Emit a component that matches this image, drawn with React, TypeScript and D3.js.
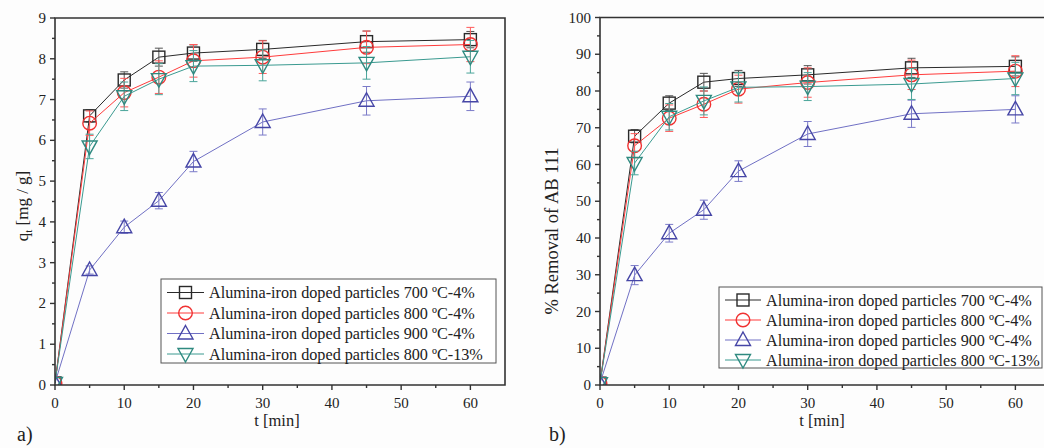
import React from "react";
import * as d3 from "d3";

const times = [0, 5, 10, 15, 20, 30, 45, 60];
const seriesNames = [
  "Alumina-iron doped particles 700 ºC-4%",
  "Alumina-iron doped particles 800 ºC-4%",
  "Alumina-iron doped particles 900 ºC-4%",
  "Alumina-iron doped particles 800 ºC-13%",
];
// panel a) q_t [mg/g]
const qt700 = [0.05, 6.6, 7.48, 8.04, 8.14, 8.23, 8.42, 8.47];
const qt800 = [0.05, 6.42, 7.17, 7.55, 7.95, 8.04, 8.28, 8.35];
const qt900 = [0.05, 2.82, 3.87, 4.52, 5.48, 6.45, 6.97, 7.08];
const qt800b = [0.05, 5.85, 7.08, 7.5, 7.82, 7.84, 7.9, 8.05];
const qtErr700 = [0, 0.15, 0.2, 0.22, 0.2, 0.22, 0.26, 0.2];
const qtErr800 = [0, 0.3, 0.35, 0.4, 0.4, 0.4, 0.4, 0.42];
const qtErr900 = [0, 0.1, 0.15, 0.2, 0.25, 0.32, 0.35, 0.35];
const qtErr800b = [0, 0.3, 0.35, 0.38, 0.38, 0.38, 0.4, 0.4];
// panel b) % removal
const rm700 = [0.5, 67.7, 76.7, 82.4, 83.4, 84.4, 86.3, 86.7];
const rm800 = [0.5, 65.1, 72.6, 76.4, 80.5, 82.3, 84.4, 85.4];
const rm900 = [0.5, 29.9, 41.3, 47.7, 58.2, 68.3, 73.8, 75.0];
const rm800b = [0.5, 60.4, 73.0, 77.3, 81.0, 81.2, 81.9, 83.4];
const rmErr700 = [0, 1.8, 2.0, 2.4, 2.2, 2.5, 2.6, 2.6];
const rmErr800 = [0, 3.3, 3.6, 3.6, 3.8, 4.0, 4.0, 4.2];
const rmErr900 = [0, 2.6, 2.4, 2.6, 2.8, 3.4, 3.7, 3.7];
const rmErr800b = [0, 3.2, 3.6, 3.8, 4.0, 3.8, 4.2, 4.4];

const xTicks = [0, 10, 20, 30, 40, 50, 60];
const qtTicks = [0, 1, 2, 3, 4, 5, 6, 7, 8, 9];
const rmTicks = [0, 10, 20, 30, 40, 50, 60, 70, 80, 90, 100];

const lineColors = ["#2a2a2a", "#ff3b3b", "#7070c4", "#3a9a90"];
const markerColors = ["#2a2a2a", "#f03232", "#4646a6", "#2f8a80"];
const errColors = ["#555555", "#ff5a5a", "#7a7ac8", "#4aa59a"];
const markerTypes = ["square", "circle", "up", "down"];

const FONT = "'Liberation Serif', 'Times New Roman', serif";
const AXIS = "#333333";

function Marker({ type, x, y, color }: { type: string; x: number; y: number; color: string }) {
  const sw = 1.4;
  if (type === "square")
    return <rect x={x - 6} y={y - 6} width={12} height={12} fill="none" stroke={color} strokeWidth={sw} />;
  if (type === "circle") return <circle cx={x} cy={y} r={6.8} fill="none" stroke={color} strokeWidth={sw} />;
  if (type === "up")
    return (
      <path d={`M${x},${y - 8}L${x + 7.5},${y + 5.5}L${x - 7.5},${y + 5.5}Z`} fill="none" stroke={color} strokeWidth={sw} />
    );
  return (
    <path d={`M${x},${y + 8}L${x + 7.5},${y - 5.5}L${x - 7.5},${y - 5.5}Z`} fill="none" stroke={color} strokeWidth={sw} />
  );
}

type PanelProps = {
  id: string;
  left: number;
  top: number;
  bottom: number;
  yMax: number;
  yTicks: number[];
  yMinorStep: number;
  series: number[][];
  errs: number[][];
  legend: { x0: number; y0: number; x1: number; y1: number; rows: number[]; lineX0: number; lineX1: number; textX: number };
  yLabel: React.ReactNode;
  yLabelX: number;
  yLabelY: number;
  yLabelSize: number;
  panelLabel: string;
  panelLabelX: number;
};

function Panel(p: PanelProps) {
  const x = d3.scaleLinear().domain([0, 65]).range([p.left, p.left + 450]);
  const y = d3.scaleLinear().domain([0, p.yMax]).range([p.bottom, p.top]);
  const line = d3
    .line<number>()
    .x((_, i) => x(times[i]))
    .y((d) => y(d));
  const xMinor = d3.range(5, 65, 10);
  const yMinor = d3.range(p.yMinorStep, p.yMax, p.yMinorStep * 2);
  const right = x(65);
  return (
    <g>
      <defs>
        <clipPath id={`clip-${p.id}`}>
          <rect x={x(0)} y={y(p.yMax)} width={right - x(0)} height={p.bottom - y(p.yMax)} />
        </clipPath>
      </defs>
      <g clipPath={`url(#clip-${p.id})`}>
        {p.series.map((s, k) => (
          <g key={k}>
            <path d={line(s) || ""} fill="none" stroke={lineColors[k]} strokeWidth={1} />
            {s.map((v, i) =>
              p.errs[k][i] > 0 ? (
                <g key={i} stroke={errColors[k]} strokeWidth={1}>
                  <line x1={x(times[i])} x2={x(times[i])} y1={y(v - p.errs[k][i])} y2={y(v + p.errs[k][i])} />
                  <line x1={x(times[i]) - 4} x2={x(times[i]) + 4} y1={y(v - p.errs[k][i])} y2={y(v - p.errs[k][i])} />
                  <line x1={x(times[i]) - 4} x2={x(times[i]) + 4} y1={y(v + p.errs[k][i])} y2={y(v + p.errs[k][i])} />
                </g>
              ) : null
            )}
            {s.map((v, i) => (
              <Marker key={i} type={markerTypes[k]} x={x(times[i])} y={y(v)} color={markerColors[k]} />
            ))}
          </g>
        ))}
      </g>
      {/* frame */}
      <path
        d={`M${x(0)},${p.bottom}V${y(p.yMax)}H${right}V${p.bottom}Z`}
        fill="none"
        stroke={AXIS}
        strokeWidth={1.6}
      />
      {/* x ticks */}
      {xTicks.map((t) => (
        <g key={t}>
          <line x1={x(t)} x2={x(t)} y1={p.bottom} y2={p.bottom + 5} stroke={AXIS} strokeWidth={1.4} />
          <text x={x(t)} y={p.bottom + 23} textAnchor="middle" fontFamily={FONT} fontSize={15} fill="#222">
            {t}
          </text>
        </g>
      ))}
      {xMinor.map((t) => (
        <line key={t} x1={x(t)} x2={x(t)} y1={p.bottom} y2={p.bottom + 3} stroke={AXIS} strokeWidth={1.4} />
      ))}
      {/* y ticks */}
      {p.yTicks.map((t) => (
        <g key={t}>
          <line x1={x(0) - 5} x2={x(0)} y1={y(t)} y2={y(t)} stroke={AXIS} strokeWidth={1.4} />
          <text x={x(0) - 9} y={y(t) + 5} textAnchor="end" fontFamily={FONT} fontSize={15} fill="#222">
            {t}
          </text>
        </g>
      ))}
      {yMinor.map((t) => (
        <line key={t} x1={x(0) - 3} x2={x(0)} y1={y(t)} y2={y(t)} stroke={AXIS} strokeWidth={1.4} />
      ))}
      {/* axis titles */}
      <text x={x(32.5) - 3} y={p.bottom + 41} textAnchor="middle" fontFamily={FONT} fontSize={16.5} fill="#222">
        t [min]
      </text>
      <text
        transform={`translate(${p.yLabelX},${p.yLabelY}) rotate(-90)`}
        textAnchor="middle"
        fontFamily={FONT}
        fontSize={p.yLabelSize}
        fill="#222"
      >
        {p.yLabel}
      </text>
      <text x={p.panelLabelX} y={441} fontFamily={FONT} fontSize={20} fill="#222">
        {p.panelLabel}
      </text>
      {/* legend */}
      <rect
        x={p.legend.x0}
        y={p.legend.y0}
        width={p.legend.x1 - p.legend.x0}
        height={p.legend.y1 - p.legend.y0}
        fill="#ffffff"
        stroke="#555"
        strokeWidth={1}
      />
      {seriesNames.map((n, k) => {
        const cy = p.legend.rows[k];
        const cx = (p.legend.lineX0 + p.legend.lineX1) / 2;
        return (
          <g key={n}>
            <line x1={p.legend.lineX0} x2={p.legend.lineX1} y1={cy} y2={cy} stroke={lineColors[k]} strokeWidth={1} />
            <Marker type={markerTypes[k]} x={cx} y={cy} color={markerColors[k]} />
            <text x={p.legend.textX} y={cy + 5.5} fontFamily={FONT} fontSize={16.2} fill="#222">
              {n}
            </text>
          </g>
        );
      })}
    </g>
  );
}

export default function App() {
  return (
    <svg
      width={1044}
      height={448}
      style={{ position: "absolute", left: 0, top: 0, background: "#fdfdfd" }}
    >
      <Panel
        id="a"
        left={55}
        top={18}
        bottom={385}
        yMax={9}
        yTicks={qtTicks}
        yMinorStep={0.5}
        series={[qt700, qt800, qt900, qt800b]}
        errs={[qtErr700, qtErr800, qtErr900, qtErr800b]}
        legend={{ x0: 161, y0: 279, x1: 496, y1: 363, rows: [292.5, 313, 333.5, 354], lineX0: 167, lineX1: 204, textX: 209 }}
        yLabel={
          <>
            q<tspan fontSize={11} dy={4}>t</tspan>
            <tspan dy={-4}> [mg / g]</tspan>
          </>
        }
        yLabelX={28}
        yLabelY={206}
        yLabelSize={17}
        panelLabel="a)"
        panelLabelX={17}
      />
      <Panel
        id="b"
        left={600}
        top={17.5}
        bottom={385}
        yMax={100}
        yTicks={rmTicks}
        yMinorStep={5}
        series={[rm700, rm800, rm900, rm800b]}
        errs={[rmErr700, rmErr800, rmErr900, rmErr800b]}
        legend={{ x0: 719, y0: 287, x1: 1042, y1: 368, rows: [300, 320, 340, 360], lineX0: 725, lineX1: 761, textX: 766 }}
        yLabel={<>% Removal of AB 111</>}
        yLabelX={558}
        yLabelY={231}
        yLabelSize={18.5}
        panelLabel="b)"
        panelLabelX={549}
      />
    </svg>
  );
}
